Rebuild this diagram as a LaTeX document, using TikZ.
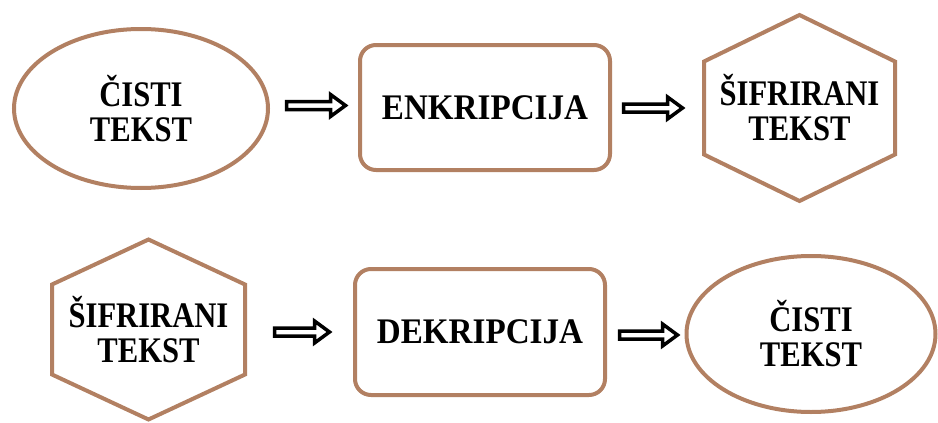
\documentclass[tikz,border=0pt]{standalone}
\usepackage{fontspec}
\setmainfont{Liberation Serif}[FakeStretch=0.85]
\newfontfamily\boxfont{Liberation Serif}[FakeStretch=0.92]
\usetikzlibrary{shapes.geometric,calc}
\definecolor{brownline}{RGB}{178,128,98}
\newcommand{\blockarrow}[2]{%
  \draw[blockarr] let \p1=(#1), \p2=(#2) in
   (\x1,\y1+4pt) -- (\x2-15pt,\y1+4pt) -- (\x2-15pt,\y1+11pt) -- (\x2,\y1)
   -- (\x2-15pt,\y1-11pt) -- (\x2-15pt,\y1-4pt) -- (\x1,\y1-4pt) -- cycle;}
\begin{document}
\begin{tikzpicture}[x=1pt,y=-1pt,
  outline/.style={draw=brownline, line width=4pt},
  lbl/.style={font=\bfseries\fontsize{36}{35}\selectfont, align=center, inner sep=0pt, outer sep=0pt},
  oval/.style={outline, lbl, ellipse},
  procbox/.style={outline, rounded corners=16pt, inner sep=0pt, outer sep=0pt,
    font=\boxfont\bfseries\fontsize{36}{36}\selectfont},
  hexframe/.style={outline},
  blockarr/.style={draw=black, fill=white, line width=3.5pt, line join=miter}
]
\useasboundingbox (0,0) rectangle (938,423);

% top row
\node[oval, minimum width=254pt, minimum height=159pt] (plain1) at (141,108.5) {ČISTI\\TEKST};
\node[procbox, minimum width=250pt, minimum height=125pt] (enc) at (485,107.5) {ENKRIPCIJA};
\node[lbl, minimum width=191pt, minimum height=186pt] (hex1) at (799.5,108) {ŠIFRIRANI\\TEKST};
\draw[hexframe] (hex1.north) -- ($(hex1.north east)!0.25!(hex1.south east)$)
  -- ($(hex1.north east)!0.75!(hex1.south east)$) -- (hex1.south)
  -- ($(hex1.north west)!0.75!(hex1.south west)$)
  -- ($(hex1.north west)!0.25!(hex1.south west)$) -- cycle;

% bottom row
\node[lbl, minimum width=193pt, minimum height=180pt] (hex2) at (148.5,329.5) {ŠIFRIRANI\\TEKST};
\draw[hexframe] (hex2.north) -- ($(hex2.north east)!0.25!(hex2.south east)$)
  -- ($(hex2.north east)!0.75!(hex2.south east)$) -- (hex2.south)
  -- ($(hex2.north west)!0.75!(hex2.south west)$)
  -- ($(hex2.north west)!0.25!(hex2.south west)$) -- cycle;
\node[procbox, minimum width=250pt, minimum height=126pt] (dec) at (480,332) {DEKRIPCIJA};
\node[oval, minimum width=249pt, minimum height=156pt] (plain2) at (811,334) {ČISTI\\TEKST};

% block arrows
\coordinate (a1s) at (286.5,105.5); \coordinate (a1e) at (345.5,105.5);
\coordinate (a2s) at (623.5,108);   \coordinate (a2e) at (682.5,108);
\coordinate (a3s) at (274.5,332);   \coordinate (a3e) at (329.5,332);
\coordinate (a4s) at (619.5,335);   \coordinate (a4e) at (677.5,335);
\blockarrow{a1s}{a1e}
\blockarrow{a2s}{a2e}
\blockarrow{a3s}{a3e}
\blockarrow{a4s}{a4e}
\end{tikzpicture}
\end{document}
